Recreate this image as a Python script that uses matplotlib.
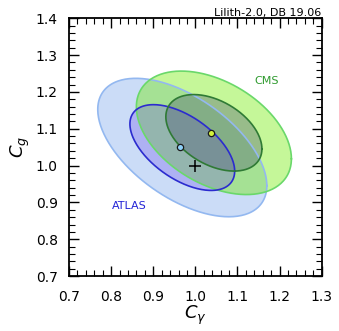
import numpy as np
import matplotlib
matplotlib.use('Agg')
import matplotlib.pyplot as plt
from matplotlib.ticker import MultipleLocator

# gaussian approximation of the fits (centre, sigmas, correlation)
experiments = ['ATLAS', 'CMS']
centers = [(0.969, 1.049), (1.044, 1.089)]
best_fits = [(0.963, 1.050), (1.036, 1.088)]
sigmas = [(0.0820, 0.0768), (0.0752, 0.0685)]
rhos = [-0.55, -0.42]
sm_point = (1.0, 1.0)
dchi2_levels = [5.99, 2.30]  # 95% and 68% CL, 2 dof

label_pos = [(0.842, 0.890), (1.169, 1.230)]
label_colors = ['#2323d6', '#2e9a2e']
fill_colors = [['#7fa8eb', '#6e50eb'], ['#6eeb00', '#46506e']]
fill_alphas = [[0.4, 0.3], [0.4, 0.35]]
edge_colors = [['#93b8f0', '#2b2bcf'], ['#6ad86a', '#2f7a35']]
marker_colors = ['#8ed0f8', '#d4f23c']


def contour_points(center, sig, rho, dchi2, n=300):
    sx, sy = sig
    cov = np.array([[sx**2, rho*sx*sy], [rho*sx*sy, sy**2]])
    L = np.linalg.cholesky(cov)
    t = np.linspace(0, 2*np.pi, n)
    pts = L @ (np.sqrt(dchi2) * np.vstack([np.cos(t), np.sin(t)]))
    return center[0] + pts[0], center[1] + pts[1]


fig = plt.figure(figsize=(3.39, 3.31), dpi=100)
ax = fig.add_axes([0.2035, 0.166, 0.7455, 0.7787])

for j, lev in enumerate(dchi2_levels):
    for i, exp in enumerate(experiments):
        x, y = contour_points(centers[i], sigmas[i], rhos[i], lev)
        ax.fill(x, y, color=fill_colors[i][j], alpha=fill_alphas[i][j], lw=0)
        ax.plot(x, y, color=edge_colors[i][j], lw=1.2)

for i, exp in enumerate(experiments):
    ax.plot(*best_fits[i], 'o', ms=4.5, mfc=marker_colors[i], mec='#1a1a1a', mew=0.9)
    ax.text(*label_pos[i], exp, color=label_colors[i], fontsize=8, ha='center', va='center')

ax.plot(*sm_point, '+', color='black', ms=9, mew=1.1)

ax.set_xlim(0.7, 1.3)
ax.set_ylim(0.7, 1.4)
ax.xaxis.set_major_locator(MultipleLocator(0.1))
ax.xaxis.set_minor_locator(MultipleLocator(0.02))
ax.yaxis.set_major_locator(MultipleLocator(0.1))
ax.yaxis.set_minor_locator(MultipleLocator(0.02))
ax.tick_params(which='both', direction='in', top=True, right=True, labelsize=10)
ax.tick_params(axis='x', which='both', pad=10)
ax.tick_params(axis='y', which='both', pad=8)
ax.tick_params(which='major', length=7, width=1)
ax.tick_params(which='minor', length=4, width=0.8)
for s in ax.spines.values():
    s.set_linewidth(1.3)

ax.set_xlabel(r'$C_\gamma$', fontsize=13, labelpad=0)
ax.set_ylabel(r'$C_g$', fontsize=13, labelpad=3)
ax.set_title('Lilith-2.0, DB 19.06', fontsize=8, loc='right', pad=2)

fig.savefig('out.png', dpi=100)
